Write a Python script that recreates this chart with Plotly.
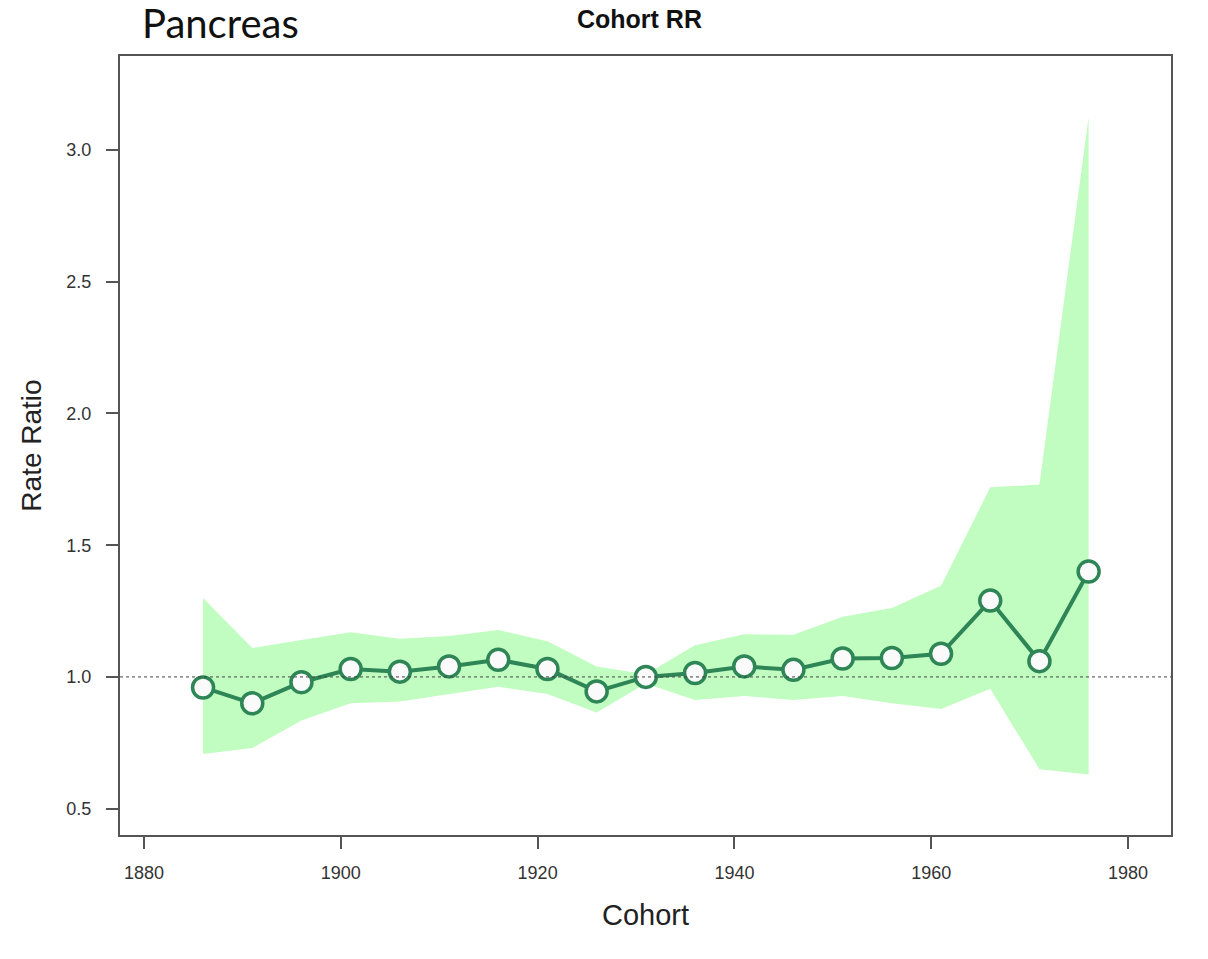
import plotly.graph_objects as go

# Cohort rate ratios (pancreas)
cohort = [1886, 1891, 1896, 1901, 1906, 1911, 1916, 1921, 1926, 1931,
          1936, 1941, 1946, 1951, 1956, 1961, 1966, 1971, 1976]
rate_ratio = [0.96, 0.90, 0.98, 1.03, 1.02, 1.04, 1.065, 1.03, 0.945, 1.00,
              1.015, 1.04, 1.027, 1.07, 1.072, 1.088, 1.29, 1.06, 1.40]
ci_upper = [1.30, 1.11, 1.14, 1.17, 1.145, 1.155, 1.178, 1.135, 1.04, 1.01,
            1.12, 1.162, 1.16, 1.228, 1.262, 1.346, 1.72, 1.73, 3.125]
ci_lower = [0.707, 0.73, 0.835, 0.90, 0.907, 0.935, 0.963, 0.935, 0.865, 0.975,
            0.912, 0.928, 0.912, 0.928, 0.90, 0.878, 0.955, 0.65, 0.63]

x_ticks = [1880, 1900, 1920, 1940, 1960, 1980]
y_ticks = [0.5, 1.0, 1.5, 2.0, 2.5, 3.0]

green = "#2e8555"
band = "#c1fdc1"
arial = "Liberation Sans, Arial, sans-serif"

fig = go.Figure()

# confidence band
fig.add_trace(go.Scatter(x=cohort, y=ci_lower, mode="lines",
                         line=dict(width=0, color=band), hoverinfo="skip",
                         showlegend=False))
fig.add_trace(go.Scatter(x=cohort, y=ci_upper, mode="lines", fill="tonexty",
                         fillcolor=band, line=dict(width=0, color=band),
                         hoverinfo="skip", showlegend=False))

# reference line at RR = 1
fig.add_hline(y=1.0, line=dict(color="#444444", width=1, dash="dot"))

# estimates
fig.add_trace(go.Scatter(x=cohort, y=rate_ratio, mode="lines+markers",
                         line=dict(color=green, width=4),
                         marker=dict(size=21, color="#fafafa",
                                     line=dict(color=green, width=3.5)),
                         showlegend=False))

tick_font = dict(family=arial, size=18, color="#333333")

fig.update_xaxes(range=[1877.56, 1984.37], tickvals=x_ticks,
                 ticks="outside", ticklen=12, tickwidth=1.5, tickcolor="#555555",
                 showline=True, linecolor="#555555", linewidth=2, mirror=True,
                 showgrid=False, zeroline=False, tickfont=tick_font,
                 ticklabelstandoff=8,
                 title=dict(text="Cohort", standoff=23,
                            font=dict(family=arial, size=29, color="#222222")))
fig.update_yaxes(range=[0.40, 3.357], tickvals=y_ticks, tickformat=".1f",
                 ticks="outside", ticklen=12, tickwidth=1.5, tickcolor="#555555",
                 showline=True, linecolor="#555555", linewidth=2, mirror=True,
                 showgrid=False, zeroline=False, tickfont=tick_font,
                 ticklabelstandoff=11,
                 title=dict(text="Rate Ratio", standoff=17,
                            font=dict(family=arial, size=28, color="#222222")))

fig.update_layout(
    width=1208, height=959,
    paper_bgcolor="white", plot_bgcolor="white",
    margin=dict(l=112, r=45, t=48, b=132),
    annotations=[
        dict(text="<b>Cohort RR</b>", xref="paper", yref="paper",
             x=0.494, y=1.0, yanchor="middle", yshift=37, showarrow=False,
             font=dict(family=arial, size=25, color="#111111")),
        dict(text="Pancreas", xref="paper", yref="paper",
             x=0.019, y=1.0, xanchor="left", yanchor="middle", yshift=33,
             showarrow=False,
             font=dict(family="Lato, sans-serif", size=40, color="#111111")),
    ],
)

fig.write_html("out.html")
